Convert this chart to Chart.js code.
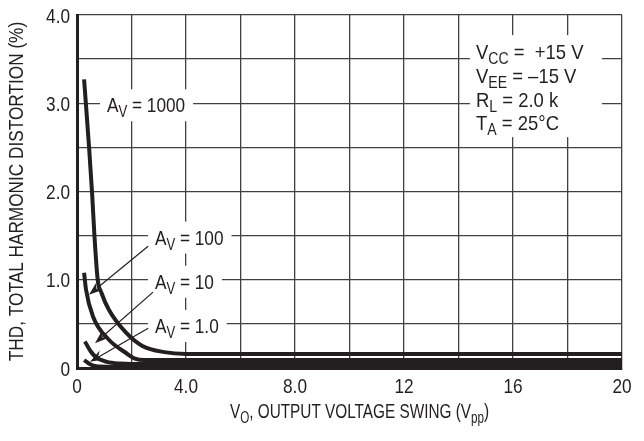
<!DOCTYPE html>
<html><head><meta charset="utf-8">
<script src="https://cdn.jsdelivr.net/npm/chart.js@4.4.0/dist/chart.umd.min.js"></script>
<style>html,body{margin:0;padding:0;background:#fff;}#wrap{width:644px;height:441px;position:relative;}</style>
</head><body><div id="wrap"><canvas id="c" width="644" height="441"></canvas></div>
<script>
const xTickValues = [0, 4, 8, 12, 16, 20];
const xTickLabels = ['0', '4.0', '8.0', '12', '16', '20'];
const yTickValues = [0, 1, 2, 3, 4];
const yTickLabels = ['0', '1.0', '2.0', '3.0', '4.0'];

const av1000X = [0.26, 0.45, 0.55, 0.64, 0.76, 0.9, 1.17, 1.8, 2.4, 3.2, 4.0, 20];
const av1000Y = [3.27, 2.47, 2.0, 1.5, 1.0, 0.85, 0.66, 0.40, 0.25, 0.18, 0.16, 0.16];
const av100X = [0.26, 0.33, 0.59, 1.17, 1.8, 2.1, 2.5, 20];
const av100Y = [1.08, 0.89, 0.58, 0.32, 0.17, 0.11, 0.09, 0.09];
const av10X = [0.29, 0.5, 0.7, 1.1, 1.6, 2.0, 20];
const av10Y = [0.3, 0.19, 0.12, 0.07, 0.05, 0.045, 0.045];
const av1X = [0.26, 0.5, 0.7, 1.2, 20];
const av1Y = [0.09, 0.04, 0.02, 0.015, 0.015];

const seriesNames = ['AV = 1000', 'AV = 100', 'AV = 10', 'AV = 1.0'];
const xTitle = [['V'], ['O', 1], [', OUTPUT VOLTAGE SWING (V'], ['pp', 1], [')']];
const yTitle = 'THD, TOTAL HARMONIC DISTORTION (%)';
const conditions = [
  [['V'], ['CC', 1], [' =  +15 V']],
  [['V'], ['EE', 1], [' = \u201315 V']],
  [['R'], ['L', 1], [' = 2.0 k']],
  [['T'], ['A', 1], [' = 25\u00B0C']]
];

const FONT = "'Liberation Sans',Arial,Helvetica,sans-serif";
const SX = 0.82;       // horizontal condensation
const FS = 21;         // font size
const INK = '#231f20';

function pts(xs, ys) { return xs.map((x, i) => ({ x: x, y: ys[i] })); }

function richWidth(ctx, parts, size, sx) {
  let w = 0;
  for (const p of parts) {
    const sub = p[1] === 1;
    ctx.font = (sub ? Math.round(size * 0.78) : size) + 'px ' + FONT;
    w += ctx.measureText(p[0]).width;
  }
  return w * sx;
}
function drawRich(ctx, x, y, parts, size, sx) {
  ctx.save();
  ctx.translate(x, y);
  ctx.scale(sx, 1);
  ctx.textAlign = 'left';
  let cx = 0;
  for (const p of parts) {
    const sub = p[1] === 1;
    ctx.font = (sub ? Math.round(size * 0.78) : size) + 'px ' + FONT;
    ctx.fillText(p[0], cx, sub ? 5 : 0);
    cx += ctx.measureText(p[0]).width;
  }
  ctx.restore();
}
function drawPlain(ctx, text, x, y, align, size, sx) {
  ctx.save();
  ctx.font = size + 'px ' + FONT;
  const w = ctx.measureText(text).width * sx;
  let left = x;
  if (align === 'center') left = x - w / 2;
  else if (align === 'right') left = x - w;
  ctx.translate(left, y);
  ctx.scale(sx, 1);
  ctx.textAlign = 'left';
  ctx.fillText(text, 0, 0);
  ctx.restore();
}

// annotation anchors (data coords)
const curveLabels = [
  { x: 1.10, y: 3.0, parts: [['A'], ['V', 1], [' = 1000']] },
  { x: 2.86, y: 1.5, parts: [['A'], ['V', 1], [' = 100']] },
  { x: 2.86, y: 1.0, parts: [['A'], ['V', 1], [' = 10']] },
  { x: 2.86, y: 0.5, parts: [['A'], ['V', 1], [' = 1.0']] }
];
const arrows = [
  { from: [2.61, 1.38], to: [0.44, 0.83] },
  { from: [2.79, 0.86], to: [0.66, 0.28] },
  { from: [2.61, 0.45], to: [0.48, 0.07] }
];

const annot = {
  id: 'annot',
  beforeDatasetsDraw(chart) {
    const ctx = chart.ctx, xs = chart.scales.x, ys = chart.scales.y;
    ctx.save();
    ctx.textBaseline = 'alphabetic';
    for (const l of curveLabels) {
      const px = xs.getPixelForValue(l.x), py = ys.getPixelForValue(l.y) + 9;
      const w = richWidth(ctx, l.parts, FS, SX);
      ctx.fillStyle = '#fff';
      ctx.fillRect(px - 7, py - 23, w + 15, 32);
      ctx.fillStyle = INK;
      drawRich(ctx, px, py, l.parts, FS, SX);
    }
    // conditions box
    const bx = xs.getPixelForValue(14.64), by = ys.getPixelForValue(3.50);
    ctx.fillStyle = '#fff';
    ctx.fillRect(bx - 6, by - 24, 132, 102);
    ctx.fillStyle = INK;
    conditions.forEach((c, i) => drawRich(ctx, bx, by + i * 23.7, c, FS, 0.88));
    ctx.restore();
  },
  afterDatasetsDraw(chart) {
    const ctx = chart.ctx, xs = chart.scales.x, ys = chart.scales.y;
    ctx.save();
    ctx.strokeStyle = INK; ctx.fillStyle = INK; ctx.lineWidth = 1.2;
    for (const a of arrows) {
      const x1 = xs.getPixelForValue(a.from[0]), y1 = ys.getPixelForValue(a.from[1]);
      const x2 = xs.getPixelForValue(a.to[0]), y2 = ys.getPixelForValue(a.to[1]);
      const ang = Math.atan2(y2 - y1, x2 - x1);
      const L = 14, W = 5;
      const c = Math.cos(ang), s = Math.sin(ang);
      ctx.beginPath(); ctx.moveTo(x1, y1); ctx.lineTo(x2 - L * 0.7 * c, y2 - L * 0.7 * s); ctx.stroke();
      ctx.beginPath();
      ctx.moveTo(x2, y2);
      ctx.lineTo(x2 - L * c + W * s, y2 - L * s - W * c);
      ctx.lineTo(x2 - L * 0.65 * c, y2 - L * 0.65 * s);
      ctx.lineTo(x2 - L * c - W * s, y2 - L * s + W * c);
      ctx.closePath(); ctx.fill();
    }
    ctx.restore();
  },
  afterDraw(chart) {
    const ctx = chart.ctx, area = chart.chartArea, xs = chart.scales.x, ys = chart.scales.y;
    ctx.save();
    ctx.fillStyle = INK;
    ctx.textBaseline = 'alphabetic';
    // tick labels through the scales
    xTickValues.forEach((v, i) => drawPlain(ctx, xTickLabels[i], xs.getPixelForValue(v), area.bottom + 25, 'center', FS, SX));
    yTickValues.forEach((v, i) => drawPlain(ctx, yTickLabels[i], area.left - 7, ys.getPixelForValue(v) + 7.5, 'right', FS, SX));
    // x title
    const w = richWidth(ctx, xTitle, FS, 0.73);
    drawRich(ctx, (area.left + area.right) / 2 + 10 - w / 2, 418, xTitle, FS, 0.73);
    // y title
    ctx.translate(23, (area.top + area.bottom) / 2);
    ctx.rotate(-Math.PI / 2);
    drawPlain(ctx, yTitle, 0, 0, 'center', FS, SX);
    ctx.restore();
  }
};

const mk = (label, xs, ys) => ({
  label: label, data: pts(xs, ys), showLine: true, borderColor: INK, borderWidth: 4,
  pointRadius: 0, cubicInterpolationMode: 'monotone', fill: false
});

new Chart(document.getElementById('c'), {
  type: 'scatter',
  data: {
    datasets: [
      mk(seriesNames[0], av1000X, av1000Y),
      mk(seriesNames[1], av100X, av100Y),
      mk(seriesNames[2], av10X, av10Y),
      mk(seriesNames[3], av1X, av1Y)
    ]
  },
  options: {
    responsive: false, animation: false, devicePixelRatio: 1,
    layout: { padding: { left: 0, right: 22, top: 15, bottom: 0 } },
    plugins: { legend: { display: false }, tooltip: { enabled: false } },
    scales: {
      x: {
        type: 'linear', min: 0, max: 20,
        afterFit(s) { s.height = 73; },
        ticks: {
          display: false, stepSize: 2, autoSkip: false, maxRotation: 0,
          callback(v) { const i = xTickValues.indexOf(v); return i >= 0 ? xTickLabels[i] : ''; }
        },
        grid: { color: '#404040', lineWidth: 1.3, drawTicks: false },
        border: { display: true, color: INK, width: 3 }
      },
      y: {
        min: 0, max: 4,
        afterFit(s) { s.width = 77; },
        ticks: {
          display: false, stepSize: 0.5, autoSkip: false,
          callback(v) { const i = yTickValues.indexOf(v); return i >= 0 ? yTickLabels[i] : ''; }
        },
        grid: { color: '#404040', lineWidth: 1.3, drawTicks: false },
        border: { display: true, color: INK, width: 3 }
      }
    }
  },
  plugins: [annot]
});
</script>
</body></html>
